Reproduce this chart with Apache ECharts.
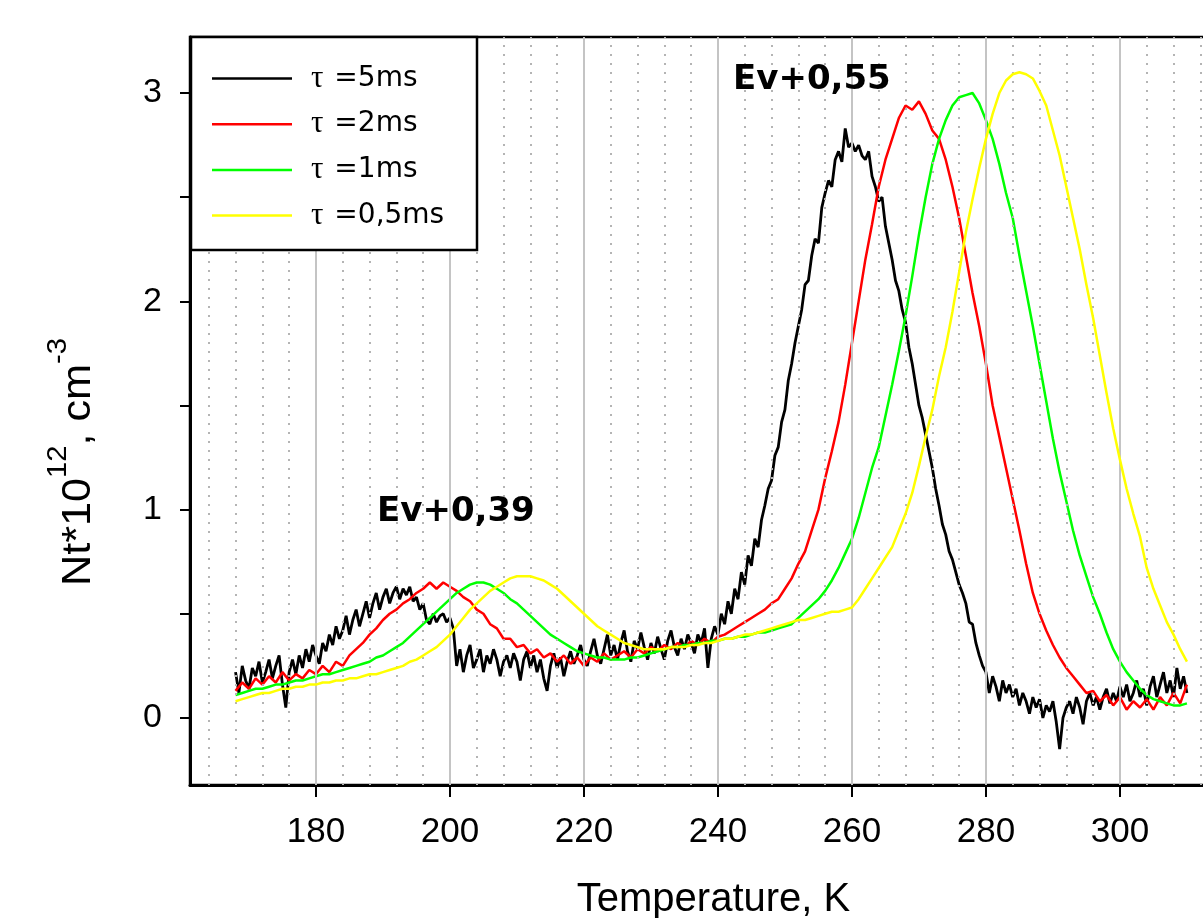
<!DOCTYPE html>
<html>
<head>
<meta charset="utf-8">
<script src="https://cdn.jsdelivr.net/npm/echarts@6/dist/echarts.min.js"></script>
<style>
  html, body { margin: 0; padding: 0; background: #fff; }
  #main { width: 1203px; height: 918px; }
</style>
</head>
<body>
<div id="main"></div>
<script>
var myChart = echarts.init(document.getElementById('main'));

// temperature sampling of the curves (K)
var tStart = 168;
var stepBlack = 0.5;
var stepOther = 1;

// tau = 5 ms, every 0.5 K from 168 K
var black5ms = [
  0.22,0.12,0.25,0.18,0.14,0.24,0.20,0.27,0.17,0.22,
  0.28,0.19,0.25,0.30,0.16,0.05,0.22,0.28,0.21,0.30,
  0.24,0.33,0.27,0.35,0.30,0.26,0.36,0.32,0.40,0.35,
  0.44,0.38,0.42,0.49,0.40,0.47,0.52,0.44,0.50,0.56,
  0.48,0.55,0.60,0.52,0.58,0.62,0.55,0.60,0.63,0.57,
  0.62,0.59,0.63,0.56,0.58,0.52,0.55,0.47,0.45,0.50,
  0.46,0.49,0.50,0.46,0.48,0.43,0.25,0.33,0.22,0.30,
  0.35,0.24,0.28,0.33,0.22,0.30,0.26,0.33,0.28,0.20,
  0.27,0.30,0.24,0.31,0.27,0.18,0.28,0.32,0.24,0.30,
  0.22,0.28,0.19,0.13,0.25,0.31,0.24,0.29,0.20,0.27,
  0.32,0.26,0.30,0.35,0.28,0.25,0.32,0.38,0.30,0.26,
  0.33,0.40,0.30,0.35,0.28,0.36,0.42,0.32,0.27,0.37,
  0.33,0.41,0.34,0.28,0.36,0.31,0.39,0.33,0.28,0.37,
  0.42,0.34,0.30,0.38,0.33,0.40,0.36,0.31,0.40,0.36,
  0.43,0.24,0.38,0.44,0.40,0.50,0.45,0.56,0.50,0.62,
  0.57,0.70,0.64,0.78,0.73,0.86,0.82,0.95,1.02,1.10,
  1.14,1.26,1.30,1.42,1.48,1.62,1.70,1.80,1.88,1.96,
  2.08,2.10,2.22,2.30,2.28,2.45,2.52,2.58,2.55,2.68,
  2.72,2.67,2.83,2.74,2.76,2.72,2.75,2.70,2.68,2.72,
  2.60,2.55,2.48,2.50,2.36,2.28,2.20,2.10,2.05,1.96,
  1.90,1.78,1.70,1.60,1.50,1.44,1.36,1.28,1.20,1.10,
  1.02,0.93,0.88,0.80,0.76,0.70,0.64,0.60,0.55,0.46,
  0.45,0.36,0.30,0.25,0.22,0.12,0.20,0.15,0.08,0.18,
  0.12,0.16,0.10,0.14,0.06,0.12,0.08,0.02,0.10,0.05,
  0.09,0.00,0.06,0.03,0.08,-0.02,-0.15,0.00,0.05,0.08,
  0.02,0.10,0.05,-0.03,0.08,0.12,0.06,0.10,0.04,0.10,
  0.14,0.07,0.12,0.08,0.15,0.10,0.16,0.08,0.12,0.18,
  0.10,0.14,0.06,0.15,0.20,0.10,0.16,0.22,0.12,0.18,
  0.10,0.24,0.14,0.20,0.12
];

// tau = 2 ms, every 1 K from 168 K
var red2ms = [
  0.13,0.17,0.14,0.19,0.16,0.20,0.17,0.22,0.18,0.21,
  0.19,0.23,0.21,0.25,0.22,0.27,0.25,0.30,0.33,0.36,
  0.40,0.43,0.47,0.50,0.52,0.55,0.57,0.60,0.62,0.65,
  0.62,0.65,0.63,0.61,0.58,0.56,0.52,0.50,0.45,0.43,
  0.38,0.38,0.34,0.35,0.31,0.33,0.29,0.31,0.27,0.30,
  0.26,0.29,0.25,0.29,0.27,0.31,0.28,0.30,0.32,0.29,
  0.33,0.31,0.34,0.32,0.35,0.33,0.36,0.34,0.37,0.35,
  0.38,0.36,0.39,0.40,0.42,0.44,0.46,0.48,0.50,0.52,
  0.55,0.57,0.62,0.67,0.74,0.80,0.90,1.00,1.15,1.28,
  1.42,1.60,1.80,2.00,2.20,2.37,2.55,2.68,2.78,2.88,
  2.94,2.92,2.96,2.90,2.82,2.78,2.68,2.55,2.40,2.22,
  2.04,1.88,1.70,1.50,1.35,1.20,1.05,0.90,0.74,0.60,
  0.50,0.42,0.35,0.29,0.24,0.20,0.16,0.12,0.13,0.08,
  0.11,0.06,0.10,0.04,0.08,0.05,0.09,0.04,0.10,0.06,
  0.12,0.07,0.16
];

// tau = 1 ms, every 1 K from 168 K
var green1ms = [
  0.11,0.12,0.13,0.14,0.14,0.15,0.16,0.16,0.17,0.18,
  0.18,0.19,0.20,0.21,0.21,0.22,0.23,0.24,0.25,0.26,
  0.27,0.29,0.30,0.32,0.34,0.36,0.39,0.42,0.45,0.48,
  0.51,0.54,0.57,0.60,0.62,0.64,0.65,0.65,0.64,0.62,
  0.60,0.57,0.55,0.52,0.49,0.46,0.43,0.40,0.38,0.36,
  0.34,0.32,0.31,0.30,0.29,0.29,0.28,0.28,0.28,0.29,
  0.29,0.30,0.31,0.32,0.33,0.34,0.34,0.35,0.35,0.36,
  0.36,0.37,0.37,0.38,0.38,0.39,0.39,0.40,0.41,0.41,
  0.42,0.43,0.44,0.45,0.48,0.51,0.54,0.57,0.61,0.66,
  0.72,0.79,0.86,0.96,1.08,1.20,1.30,1.45,1.60,1.76,
  1.93,2.12,2.32,2.50,2.66,2.78,2.87,2.94,2.98,2.99,
  3.00,2.95,2.87,2.78,2.66,2.52,2.40,2.22,2.05,1.88,
  1.70,1.52,1.34,1.18,1.04,0.90,0.78,0.68,0.58,0.50,
  0.41,0.33,0.27,0.22,0.18,0.14,0.11,0.09,0.08,0.07,
  0.06,0.06,0.07
];

// tau = 0,5 ms, every 1 K from 168 K
var yellow05ms = [
  0.08,0.09,0.10,0.11,0.12,0.12,0.13,0.14,0.14,0.15,
  0.15,0.16,0.16,0.17,0.17,0.18,0.18,0.19,0.19,0.20,
  0.21,0.21,0.22,0.23,0.24,0.25,0.27,0.28,0.30,0.32,
  0.34,0.37,0.40,0.44,0.48,0.52,0.55,0.58,0.61,0.63,
  0.65,0.67,0.68,0.68,0.68,0.67,0.66,0.64,0.62,0.59,
  0.56,0.53,0.50,0.47,0.44,0.42,0.40,0.38,0.36,0.35,
  0.34,0.33,0.33,0.33,0.33,0.34,0.34,0.34,0.35,0.35,
  0.36,0.36,0.37,0.38,0.38,0.39,0.40,0.40,0.41,0.42,
  0.43,0.44,0.45,0.46,0.47,0.47,0.48,0.49,0.50,0.51,
  0.51,0.52,0.53,0.57,0.62,0.67,0.72,0.77,0.82,0.90,
  0.98,1.08,1.21,1.35,1.48,1.64,1.78,1.95,2.14,2.33,
  2.49,2.64,2.78,2.90,3.00,3.06,3.09,3.10,3.09,3.07,
  3.01,2.94,2.82,2.70,2.55,2.40,2.25,2.08,1.92,1.74,
  1.56,1.39,1.24,1.10,0.98,0.87,0.72,0.62,0.54,0.46,
  0.40,0.33,0.27
];

var seriesNames = ['5ms', '2ms', '1ms', '0,5ms'];
var seriesColors = ['#000000', '#ff0000', '#00ff00', '#ffff00'];

var majorTicks = [180, 200, 220, 240, 260, 280, 300];
var minorGrid = [164, 168, 172, 176, 184, 188, 192, 196, 204, 208, 212, 216,
  224, 228, 232, 236, 244, 248, 252, 256, 264, 268, 272, 276, 284, 288, 292,
  296, 304, 308, 312];
var yTicks = [0, 0.5, 1, 1.5, 2, 2.5, 3];
var yLabels = [0, 1, 2, 3];

function toPairs(start, step, vals) {
  return vals.map(function (v, i) { return [start + i * step, v]; });
}

var curves = [
  toPairs(tStart, stepBlack, black5ms),
  toPairs(tStart, stepOther, red2ms),
  toPairs(tStart, stepOther, green1ms),
  toPairs(tStart, stepOther, yellow05ms)
];

var series = [{
  name: 'grid',
  type: 'line',
  data: [],
  z: 1,
  silent: true,
  markLine: {
    silent: true,
    symbol: 'none',
    label: { show: false },
    animation: false,
    data: majorTicks.map(function (t) {
      return { xAxis: t, lineStyle: { color: '#c4c4c4', width: 2, type: 'solid' } };
    }).concat(minorGrid.map(function (t) {
      return { xAxis: t, lineStyle: { color: '#b4b4b4', width: 2, type: [2, 7] } };
    }))
  }
}];

seriesNames.forEach(function (n, i) {
  series.push({
    name: n,
    type: 'line',
    data: curves[i],
    showSymbol: false,
    symbol: 'none',
    z: 2 + i,
    lineStyle: { color: seriesColors[i], width: i === 0 ? 2.8 : 2.5 },
    itemStyle: { color: seriesColors[i] }
  });
});

var option = {
  backgroundColor: '#ffffff',
  animation: false,
  grid: {
    left: 190,
    top: 37,
    width: 1025,
    height: 748,
    containLabel: false,
    outerBoundsMode: 'none',
    show: true,
    borderColor: '#000',
    borderWidth: 2.5,
    backgroundColor: 'transparent'
  },
  xAxis: {
    type: 'value',
    min: 161.2,
    max: 314.19,
    name: 'Temperature, K',
    nameLocation: 'middle',
    nameGap: 95,
    nameTextStyle: { fontSize: 40, color: '#000', fontFamily: 'Liberation Sans', padding: [0, 0, 0, 22] },
    axisLine: { show: true, onZero: false, lineStyle: { color: '#000', width: 3 } },
    axisTick: { show: true, customValues: majorTicks, length: 12, lineStyle: { color: '#000', width: 2 } },
    axisLabel: { customValues: majorTicks, fontSize: 35, margin: 30, color: '#000', fontFamily: 'Liberation Sans' },
    splitLine: { show: false }
  },
  yAxis: {
    type: 'value',
    min: -0.322,
    max: 3.269,
    axisLine: { show: true, onZero: false, lineStyle: { color: '#000', width: 3 } },
    axisTick: { show: true, customValues: yTicks, length: 10, lineStyle: { color: '#000', width: 2 } },
    axisLabel: { customValues: yLabels, fontSize: 34, margin: 28, color: '#000', fontFamily: 'Liberation Sans' },
    splitLine: { show: false }
  },
  legend: {
    data: seriesNames.map(function (n) { return { name: n, icon: 'rect' }; }),
    orient: 'vertical',
    left: 192,
    top: 37,
    z: 60,
    padding: [26, 0, 0, 20],
    itemWidth: 80,
    itemHeight: 2.5,
    itemGap: 14.7,
    selectedMode: false,
    formatter: function (n) { return '{t|τ}{s| =' + n + '}'; },
    textStyle: {
      color: '#000',
      rich: {
        t: { fontFamily: 'Liberation Serif', fontSize: 31, lineHeight: 30, padding: [0, 2, 0, 14], color: '#000' },
        s: { fontFamily: 'DejaVu Sans', fontSize: 28, lineHeight: 30, color: '#000' }
      }
    }
  },
  graphic: [
    {
      type: 'rect',
      z: 50,
      shape: { x: 191, y: 37, width: 286, height: 213 },
      style: { fill: '#fff', stroke: '#000', lineWidth: 2.5 }
    },
    {
      type: 'text',
      z: 50,
      x: 733,
      y: 80,
      style: { text: 'Ev+0,55', font: 'bold 34px "DejaVu Sans"', fill: '#000', align: 'left', verticalAlign: 'middle' }
    },
    {
      type: 'text',
      z: 50,
      x: 377,
      y: 512,
      style: { text: 'Ev+0,39', font: 'bold 34px "DejaVu Sans"', fill: '#000', align: 'left', verticalAlign: 'middle' }
    },
    {
      type: 'text',
      z: 50,
      x: 72,
      y: 462,
      rotation: Math.PI / 2,
      scaleX: 1.08,
      style: {
        text: '{b|Nt*10}{p|12}{b|, cm}{p|-3}',
        align: 'center',
        verticalAlign: 'middle',
        fill: '#000',
        rich: {
          b: { fontFamily: 'Liberation Sans', fontSize: 40, lineHeight: 54, verticalAlign: 'bottom', fill: '#000' },
          p: { fontFamily: 'Liberation Sans', fontSize: 27, lineHeight: 54, verticalAlign: 'top', fill: '#000' }
        }
      }
    }
  ],
  series: series
};

myChart.setOption(option);
</script>
</body>
</html>
